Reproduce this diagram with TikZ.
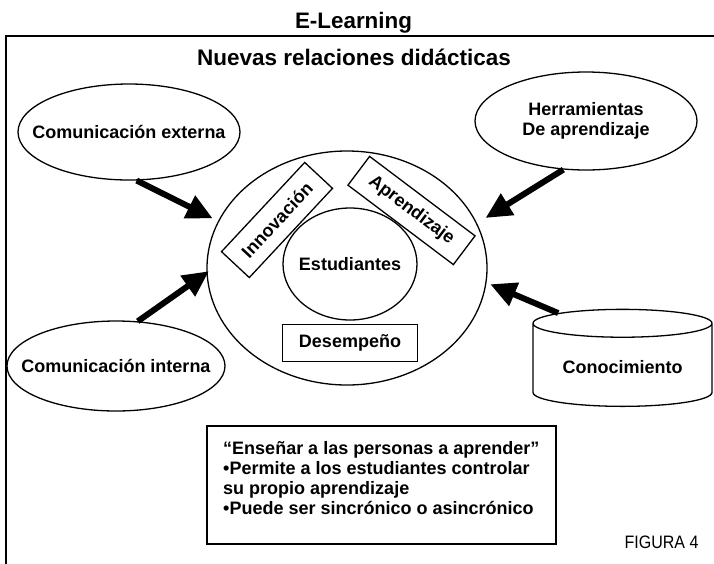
\documentclass[tikz,border=0pt]{standalone}
\usepackage{fontspec}
\setmainfont{Liberation Sans}
\newfontfamily\narrowfont[FakeStretch=0.89]{Liberation Sans}
\usetikzlibrary{shapes.geometric,arrows.meta}

\tikzset{
    bubble/.style={draw, ellipse, line width=1.3pt, inner xsep=-20pt, align=center,
        font=\bfseries\fontsize{18}{20}\selectfont},
    tag/.style={draw, rectangle, line width=1.3pt, font=\bfseries\fontsize{18}{20}\selectfont},
    bigarrow/.style={line width=6pt, -{Triangle[length=26pt,width=24pt]}},
}

\begin{document}
\begin{tikzpicture}[x=1pt, y=-1pt]
    \useasboundingbox (0,0) rectangle (714,563);

    % Frame
    \draw[line width=1.8pt] (6,580) -- (6,36) -- (730,36);

    % Titles
    \node[anchor=base, font=\bfseries\fontsize{22.4}{24}\selectfont] (elearn) at (353.5,28) {E-Learning};
    \node[anchor=base, font=\bfseries\fontsize{22.5}{24}\selectfont] (nuevas) at (354,65) {Nuevas relaciones didácticas};

    % Outer bubbles
    \node[bubble, minimum width=222pt, minimum height=96pt] (ext) at (129,132) {Comunicación externa};
    \node[bubble, minimum width=222pt, minimum height=98pt] (herr) at (586,121) {Herramientas\\De aprendizaje};
    \node[bubble, minimum width=218pt, minimum height=90pt] (intern) at (116,366) {Comunicación interna};
    \node[draw, cylinder, shape border rotate=90, aspect=0.22, line width=1.3pt,
        minimum width=179pt, minimum height=97pt, anchor=south,
        font=\bfseries\fontsize{18}{20}\selectfont] (cono) at (622.5,407) {Conocimiento};

    % Central ring
    \node[draw, ellipse, line width=1.3pt, minimum width=280pt, minimum height=234pt] (mainring) at (347,268) {};
    \node[bubble, inner xsep=-10pt, minimum width=134pt, minimum height=112pt] (estud) at (350,264) {Estudiantes};
    \node[tag, rotate=47, minimum width=122pt, minimum height=38pt] (innov) at (277,220) {Innovación};
    \node[tag, rotate=-37, minimum width=132pt, minimum height=36pt] (aprend) at (411.5,210.5) {Aprendizaje};
    \node[tag, minimum width=135pt, minimum height=37pt] (desemp) at (350,343) {Desempeño};

    % Arrows into the ring
    \draw[bigarrow, shorten >=6pt] (ext.-81) -- (mainring.160);
    \draw[bigarrow, shorten >=10pt] (herr.-115) -- (mainring.19);
    \draw[bigarrow, shorten >=-3pt] (intern.64) -- (mainring.182);
    \draw[bigarrow, shorten >=4pt] (cono.140) -- (mainring.-6);

    % Note
    \node[draw, line width=1.6pt, anchor=north west, minimum width=349pt, minimum height=118pt,
        align=left, font=\bfseries\fontsize{18}{20}\selectfont] (note) at (206,425)
        {“Enseñar a las personas a aprender”\\•Permite a los estudiantes controlar\\su propio aprendizaje\\•Puede ser sincrónico o asincrónico\\[-7pt]\mbox{}};

    \node[anchor=base east, font=\narrowfont\fontsize{18}{20}\selectfont] (fig) at (702,548) {FIGURA 4};
\end{tikzpicture}
\end{document}
